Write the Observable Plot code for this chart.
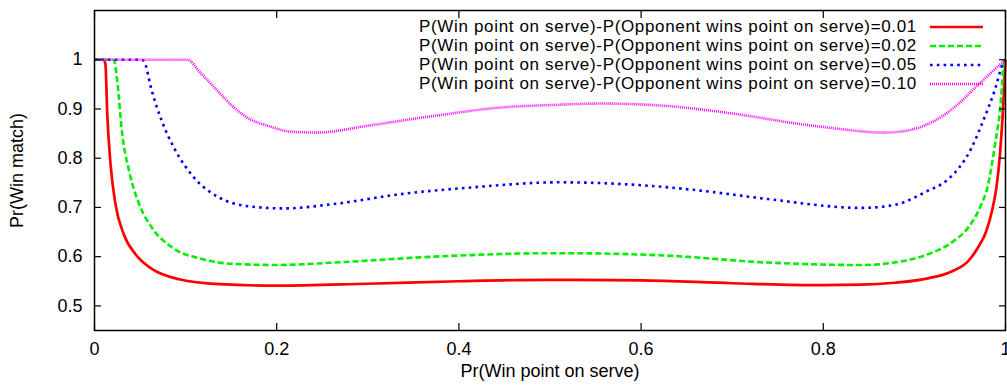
<!DOCTYPE html>
<html><head><meta charset="utf-8">
<script src="https://cdn.jsdelivr.net/npm/d3@7"></script>
<script src="https://cdn.jsdelivr.net/npm/@observablehq/plot@0.6"></script>
<style>
body{margin:0;background:#fff;font-family:"Liberation Sans",Arial,sans-serif;}
#wrap{position:relative;width:1007px;height:388px;overflow:hidden;}
#legend{position:absolute;right:24px;top:17.2px;font-size:17px;letter-spacing:0.66px;color:#000;}
.row{display:flex;align-items:center;justify-content:flex-end;height:19px;white-space:nowrap;}
.row span{display:block;line-height:19px;height:19px;}
.row svg{margin-left:13px;display:block;}
</style></head><body><div id="wrap"><div id="legend"></div></div>
<script>
const seriesLabels = [
  "P(Win point on serve)-P(Opponent wins point on serve)=0.01",
  "P(Win point on serve)-P(Opponent wins point on serve)=0.02",
  "P(Win point on serve)-P(Opponent wins point on serve)=0.05",
  "P(Win point on serve)-P(Opponent wins point on serve)=0.10"
];
const seriesColors = ["#ff0000", "#00ee00", "#0000ff", "#ff00ff"];
const seriesDash = [null, "6,3", "2.6,4.2", "1,1"];
const seriesWidth = [2.7, 2.6, 2.6, 2.6];

const x01 = [0, 0.010, 0.012, 0.014, 0.0176, 0.023, 0.032, 0.045, 0.063, 0.093, 0.137, 0.2, 0.3, 0.4, 0.5, 0.6, 0.7, 0.8, 0.842, 0.878, 0.915, 0.941, 0.959, 0.970, 0.979, 0.986, 0.990, 0.994, 0.997, 1];
const y01 = [1, 1, 0.991, 0.89, 0.788, 0.707, 0.646, 0.605, 0.575, 0.554, 0.544, 0.541, 0.545, 0.550, 0.553, 0.552, 0.546, 0.542, 0.543, 0.547, 0.556, 0.570, 0.591, 0.619, 0.652, 0.700, 0.740, 0.810, 0.890, 1];

const x02 = [0, 0.021, 0.025, 0.030, 0.038, 0.049, 0.063, 0.085, 0.118, 0.155, 0.2, 0.263, 0.373, 0.5, 0.519, 0.629, 0.739, 0.842, 0.878, 0.915, 0.941, 0.959, 0.972, 0.981, 0.988, 0.995, 0.998, 1];
const y02 = [1, 1, 0.957, 0.856, 0.774, 0.707, 0.659, 0.619, 0.595, 0.585, 0.583, 0.588, 0.600, 0.607, 0.607, 0.602, 0.588, 0.583, 0.588, 0.605, 0.629, 0.659, 0.700, 0.747, 0.822, 0.917, 0.991, 1];

const x05 = [0, 0.052, 0.056, 0.0615, 0.074, 0.087, 0.111, 0.137, 0.166, 0.208, 0.263, 0.336, 0.41, 0.51, 0.593, 0.666, 0.739, 0.842, 0.878, 0.915, 0.935, 0.963, 0.977, 0.988, 0.997, 1];
const y05 = [1, 1, 0.990, 0.947, 0.875, 0.822, 0.757, 0.720, 0.703, 0.698, 0.707, 0.727, 0.740, 0.751, 0.746, 0.734, 0.717, 0.699, 0.705, 0.734, 0.754, 0.822, 0.883, 0.937, 0.991, 1];

const x10 = [0, 0.102, 0.116, 0.135, 0.153, 0.171, 0.19, 0.215, 0.245, 0.30, 0.373, 0.446, 0.501, 0.556, 0.629, 0.703, 0.776, 0.820, 0.845, 0.865, 0.885, 0.905, 0.925, 0.945, 0.966, 0.985, 1];
const y10 = [1, 1, 0.974, 0.937, 0.903, 0.879, 0.866, 0.854, 0.852, 0.866, 0.886, 0.903, 0.908, 0.911, 0.906, 0.890, 0.869, 0.859, 0.854, 0.852, 0.854, 0.862, 0.879, 0.905, 0.942, 0.975, 1];

const xTicks = [0, 0.2, 0.4, 0.6, 0.8, 1];
const xTickLabels = ["0", "0.2", "0.4", "0.6", "0.8", "1"];
const yTicks = [0.5, 0.6, 0.7, 0.8, 0.9, 1];
const yTickLabels = ["0.5", "0.6", "0.7", "0.8", "0.9", "1"];
const xLabel = "Pr(Win point on serve)";
const yLabel = "Pr(Win match)";

const seriesXs = [x01, x02, x05, x10];
const seriesYs = [y01, y02, y05, y10];
const seriesData = seriesXs.map((xs, k) => xs.map((x, i) => ({x, y: seriesYs[k][i]})));

const noText = () => "";
const chart = Plot.plot({
  width: 1007, height: 388,
  marginLeft: 94, marginRight: 2, marginTop: 10, marginBottom: 58,
  style: {fontFamily: '"Liberation Sans", Arial, sans-serif', fontSize: "18px", color: "#000", background: "#fff", overflow: "hidden"},
  x: {domain: [0, 1]},
  y: {domain: [0.45, 1.1]},
  marks: [
    ...seriesData.map((d, k) => Plot.line(d, {
      x: "x", y: "y", curve: "monotone-x",
      stroke: seriesColors[k], strokeWidth: seriesWidth[k],
      strokeDasharray: seriesDash[k], strokeLinecap: "butt"
    })),
    Plot.axisX(xTicks, {tickSize: 0, tickPadding: 12, tickFormat: d => xTickLabels[xTicks.indexOf(d)],
      label: xLabel, labelAnchor: "center", labelArrow: "none", labelOffset: 46}),
    Plot.axisX(xTicks, {tickSize: -7, tickFormat: noText, label: null, strokeWidth: 1.2}),
    Plot.axisX(xTicks, {anchor: "top", tickSize: -7, tickFormat: noText, label: null, strokeWidth: 1.2}),
    Plot.axisY(yTicks, {tickSize: 0, tickPadding: 12, tickFormat: d => yTickLabels[yTicks.indexOf(d)],
      label: yLabel, labelAnchor: "center", labelArrow: "none", labelOffset: 84}),
    Plot.axisY(yTicks, {tickSize: -7, tickFormat: noText, label: null, strokeWidth: 1.2}),
    Plot.axisY(yTicks, {anchor: "right", tickSize: -7, tickFormat: noText, label: null, strokeWidth: 1.2}),
    Plot.frame({stroke: "#000", strokeWidth: 1.5})
  ]
});
const wrap = document.getElementById("wrap");
wrap.insertBefore(chart, wrap.firstChild);

const legend = document.getElementById("legend");
seriesLabels.forEach((lab, k) => {
  const row = document.createElement("div");
  row.className = "row";
  const span = document.createElement("span");
  span.textContent = lab;
  row.appendChild(span);
  const ns = "http://www.w3.org/2000/svg";
  const s = document.createElementNS(ns, "svg");
  s.setAttribute("width", 53); s.setAttribute("height", 6);
  const l = document.createElementNS(ns, "line");
  l.setAttribute("x1", 0); l.setAttribute("x2", 53); l.setAttribute("y1", 3); l.setAttribute("y2", 3);
  l.setAttribute("stroke", seriesColors[k]); l.setAttribute("stroke-width", seriesWidth[k]);
  if (seriesDash[k]) l.setAttribute("stroke-dasharray", seriesDash[k]);
  s.appendChild(l);
  row.appendChild(s);
  legend.appendChild(row);
});
</script>
</body></html>
